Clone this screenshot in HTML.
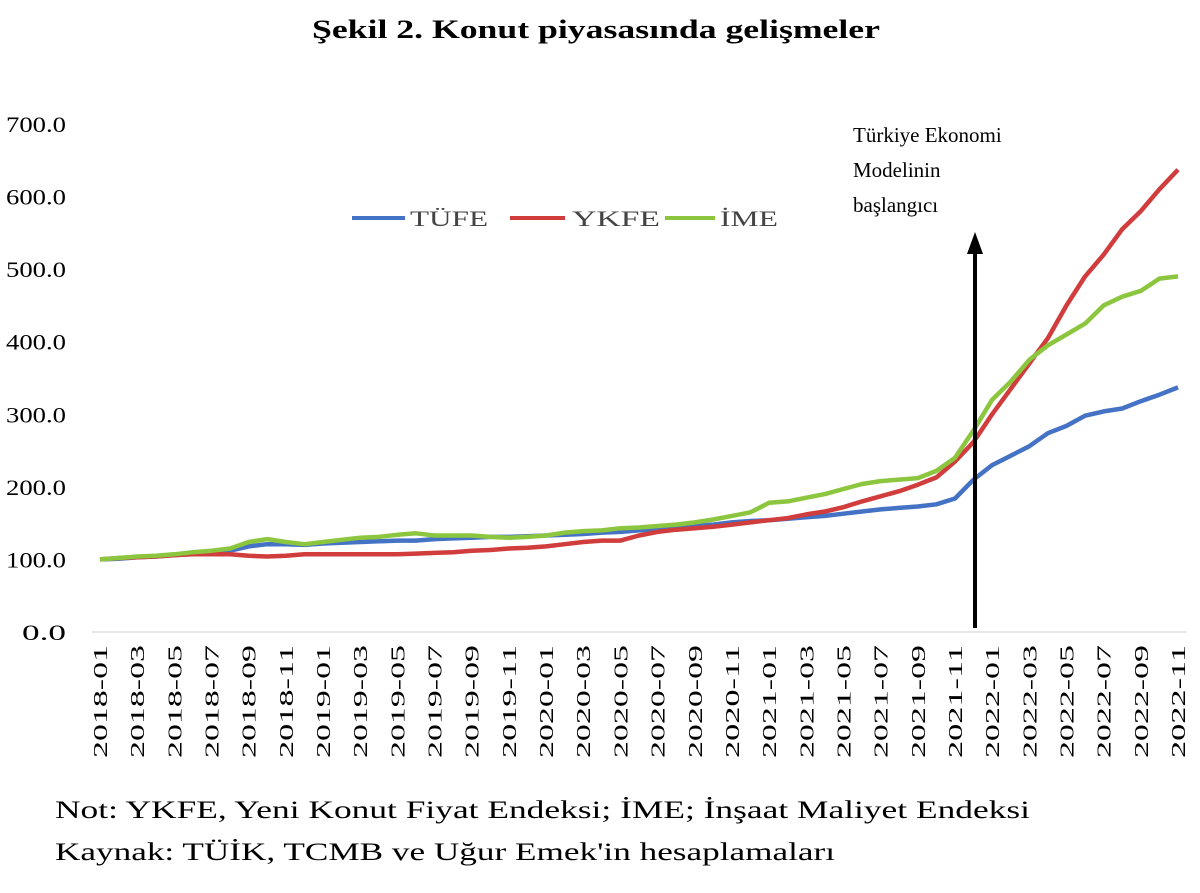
<!DOCTYPE html>
<html><head><meta charset="utf-8"><style>
body{margin:0;background:#fff;}
svg{display:block;font-family:"Liberation Serif",serif;}
</style></head><body>
<svg width="1200" height="893" viewBox="0 0 1200 893" id="chart">
<rect x="0" y="0" width="1200" height="893" fill="#fff"/>
<text x="312" y="38" font-size="26" font-weight="bold" textLength="568" lengthAdjust="spacingAndGlyphs">Şekil 2. Konut piyasasında gelişmeler</text>
<g id="yaxis"></g>
<g id="xaxis"></g>
<g id="series"></g>
<g>
<g><line x1="352" y1="218" x2="405" y2="218" stroke="#4472c4" stroke-width="4"/><text x="410" y="226" font-size="22" fill="#444" textLength="78" lengthAdjust="spacingAndGlyphs">TÜFE</text></g>
<g><line x1="510" y1="218" x2="565" y2="218" stroke="#d13c3c" stroke-width="4"/><text x="572" y="226" font-size="22" fill="#444" textLength="88" lengthAdjust="spacingAndGlyphs">YKFE</text></g>
<g><line x1="665" y1="218" x2="715" y2="218" stroke="#8cc63f" stroke-width="4"/><text x="720" y="226" font-size="22" fill="#444" textLength="58" lengthAdjust="spacingAndGlyphs">İME</text></g>
</g>
<g>
<text x="853" y="142" font-size="21">Türkiye Ekonomi</text>
<text x="853" y="177" font-size="21">Modelinin</text>
<text x="853" y="212" font-size="21">başlangıcı</text>
<line x1="975" y1="628" x2="975" y2="252" stroke="#000" stroke-width="4"/>
<polygon points="975,232 967,254 983,254" fill="#000"/>
</g>
<text x="55" y="818" font-size="25" textLength="975" lengthAdjust="spacingAndGlyphs">Not: YKFE, Yeni Konut Fiyat Endeksi; İME; İnşaat Maliyet Endeksi</text>
<text x="55" y="860" font-size="25" textLength="780" lengthAdjust="spacingAndGlyphs">Kaynak: TÜİK, TCMB ve Uğur Emek'in hesaplamaları</text>
</svg>
<script>
const yTicks=[0,100,200,300,400,500,600,700];
const tufe=[100,101,103,104,106,108,109,112,118,121,121,120,
122,123,124,125,126,126,128,129,130,131,131,132,
133,134,135,137,138,140,142,144,146,148,151,153,
154,156,158,160,163,166,169,171,173,176,184,210,
230,243,256,274,284,298,304,308,318,327,337];
const ykfe=[100,102,103,104,106,107,107,107,105,104,105,107,
107,107,107,107,107,108,109,110,112,113,115,116,
118,121,124,126,126,133,138,141,143,145,148,151,
154,157,162,166,172,180,187,194,203,213,235,262,
300,335,370,405,450,490,520,555,580,610,637];
const ime=[100,102,104,105,107,110,112,115,124,128,124,121,
124,127,130,131,134,136,133,133,133,131,130,131,
133,137,139,140,143,144,146,148,151,155,160,165,
178,180,185,190,197,204,208,210,212,222,240,278,
320,345,375,395,410,425,450,462,470,487,490];
const months=[];
for(let y=2018;y<=2022;y++)for(let m=1;m<=12;m++){if(y===2022&&m>11)break;months.push(y+'-'+String(m).padStart(2,'0'));}
const NS='http://www.w3.org/2000/svg';
const X0=100,X1=1178,Y0=632,Y700=124;
const xs=i=>X0+i*(X1-X0)/(months.length-1);
const ys=v=>Y0-v*(Y0-Y700)/700;
const ya=document.getElementById('yaxis');
yTicks.forEach(t=>{
 const tx=document.createElementNS(NS,'text');
 const s=t.toFixed(1);
 tx.setAttribute('x',66-(s.length===5?60:44));tx.setAttribute('y',ys(t)+8);tx.setAttribute('font-size','22');
 tx.setAttribute('textLength',s.length===5?60:44);tx.setAttribute('lengthAdjust','spacingAndGlyphs');
 tx.textContent=s;
 
 
 ya.appendChild(tx);
});
const xa=document.getElementById('xaxis');
const ax=document.createElementNS(NS,'line');
ax.setAttribute('x1',92);ax.setAttribute('x2',1186);ax.setAttribute('y1',Y0);ax.setAttribute('y2',Y0);ax.setAttribute('stroke','#ddd');ax.setAttribute('stroke-width','1.5');


xa.appendChild(ax);
months.forEach((m,i)=>{
 if(i%2)return;
 const tx=document.createElementNS(NS,'text');
 const x=xs(i)+7,y=645;
 tx.setAttribute('x',x);tx.setAttribute('y',y);tx.setAttribute('font-size','20');
 tx.setAttribute('transform','rotate(-90 '+x+' '+y+') translate(-113 0)');
 tx.setAttribute('textLength','113');tx.setAttribute('lengthAdjust','spacingAndGlyphs');
 tx.textContent=m;
 
 
 xa.appendChild(tx);
});
const sg=document.getElementById('series');
[[tufe,'#4472c4','line-tufe'],[ykfe,'#d13c3c','line-ykfe'],[ime,'#8cc63f','line-ime']].forEach(([d,c,n])=>{
 const p=document.createElementNS(NS,'polyline');
 p.setAttribute('points',d.map((v,i)=>xs(i).toFixed(1)+','+ys(v).toFixed(1)).join(' '));
 p.setAttribute('fill','none');p.setAttribute('stroke',c);p.setAttribute('stroke-width','4.5');p.setAttribute('stroke-linejoin','round');
 
 
 sg.appendChild(p);
});
</script>
</body></html>
